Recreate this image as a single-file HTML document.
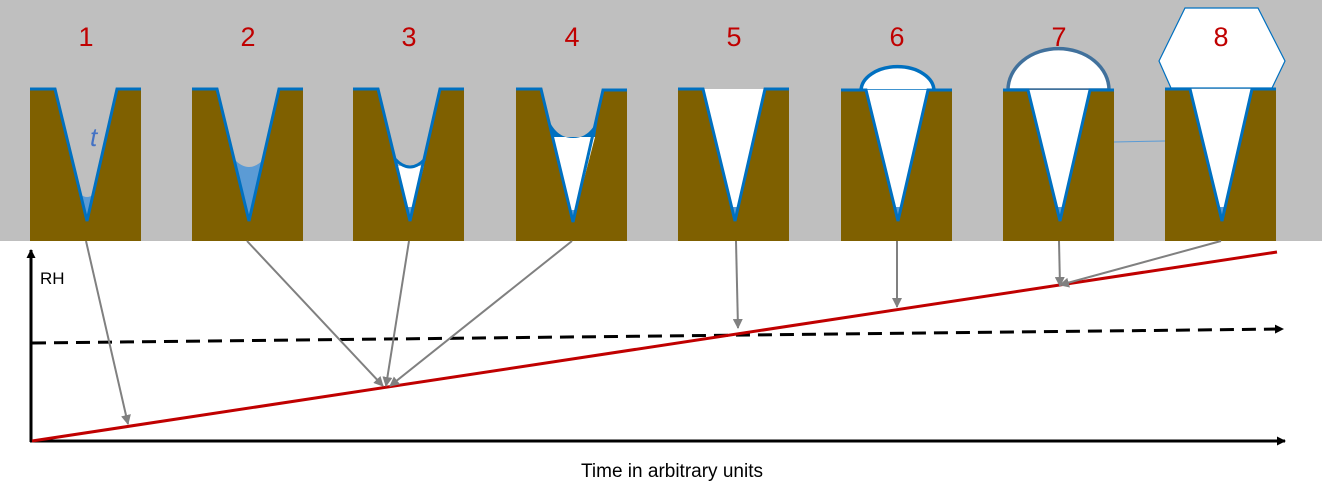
<!DOCTYPE html>
<html><head><meta charset="utf-8"><style>
html,body{margin:0;padding:0;background:#fff;}
svg{display:block;}
text{font-family:"Liberation Sans",sans-serif;}
</style></head><body>
<svg width="1322" height="502" viewBox="0 0 1322 502" xmlns="http://www.w3.org/2000/svg">
<defs>
<marker id="ga" markerWidth="10" markerHeight="10" refX="9" refY="5" orient="auto" markerUnits="userSpaceOnUse" viewBox="0 0 10 10"><path d="M0,0 L10,5 L0,10 z" fill="#808080"/></marker>
<marker id="ba" markerWidth="9" markerHeight="9" refX="8" refY="4.5" orient="auto" markerUnits="userSpaceOnUse" viewBox="0 0 9 9"><path d="M0,0 L9,4.5 L0,9 z" fill="#000"/></marker>
</defs>
<rect x="0" y="0" width="1322" height="241" fill="#bfbfbf"/>

<!-- hexagon for 8 -->
<polygon points="1185,8 1258,8 1285,61 1272,88 1171,88 1159,61" fill="#fff" stroke="#0070c0" stroke-width="1.2"/>
<!-- domes -->
<path d="M861,91 A36,24 0 0 1 934,91 Z" fill="#fff" stroke="#0070c0" stroke-width="3.5"/>
<path d="M1008,90 A50,41 0 0 1 1109,90 Z" fill="#fff" stroke="#41719c" stroke-width="3.5"/>
<!-- thin line between 7 and 8 -->
<line x1="1114" y1="142" x2="1165" y2="141" stroke="#5b9bd5" stroke-width="1"/>

<g id="blocks">
<g transform="translate(30,0)">
<path d="M0,89 H25 L57,221 L87,89 H111 V241 H0 Z" fill="#7f6000"/>
<path d="M50,194 Q57,200 64,194 L57,221 Z" fill="#5b9bd5"/>
<path d="M0,89 H25 L57,221 L87,89 H111" fill="none" stroke="#0070c0" stroke-width="3"/>
<text x="60" y="146" font-size="26" font-style="italic" fill="#4472c4">t</text>
<text x="56" y="46" font-size="27" fill="#c00000" text-anchor="middle">1</text>
</g>
<g transform="translate(192,0)">
<path d="M0,89 H25 L57,221 L87,89 H111 V241 H0 Z" fill="#7f6000"/>
<path d="M42,159 Q57,175 72,159 L57,221 Z" fill="#5b9bd5"/>
<path d="M0,89 H25 L57,221 L87,89 H111" fill="none" stroke="#0070c0" stroke-width="3"/>
<text x="56" y="46" font-size="27" fill="#c00000" text-anchor="middle">2</text>
</g>
<g transform="translate(353,0)">
<path d="M0,89 H25 L57,221 L87,89 H111 V241 H0 Z" fill="#7f6000"/>
<path d="M43,166 L71,166 L57,221 Z" fill="#fff"/>
<path d="M54,207 L60,207 L57,221 Z" fill="#5b9bd5"/>
<path d="M42,159 Q57,175 72,159" fill="none" stroke="#0070c0" stroke-width="3"/>
<path d="M0,89 H25 L57,221 L87,89 H111" fill="none" stroke="#0070c0" stroke-width="3"/>
<text x="56" y="46" font-size="27" fill="#c00000" text-anchor="middle">3</text>
</g>
<g transform="translate(516,0)">
<path d="M0,89 H25 L57,222 L87,89 H111 V241 H0 Z" fill="#7f6000"/>
<path d="M36,137 L79,137 L57,222 Z" fill="#fff"/>
<path d="M54,210 L60,210 L57,222 Z" fill="#5b9bd5"/>
<path d="M32,118 Q40,138 57,138 Q74,138 82,118 L79,137 H36 Z" fill="#0070c0"/>
<path d="M0,89 H25 L57,222 L87,90 H111" fill="none" stroke="#0070c0" stroke-width="3"/>
<text x="56" y="46" font-size="27" fill="#c00000" text-anchor="middle">4</text>
</g>
<g transform="translate(678,0)">
<path d="M0,89 H25 L57,221 L87,89 H111 V241 H0 Z" fill="#7f6000"/>
<path d="M25,89 L87,89 L57,221 Z" fill="#fff"/>
<path d="M54,207 L60,207 L57,221 Z" fill="#5b9bd5"/>
<path d="M0,89 H25 L57,221 L87,89 H111" fill="none" stroke="#0070c0" stroke-width="3"/>
<text x="56" y="46" font-size="27" fill="#c00000" text-anchor="middle">5</text>
</g>
<g transform="translate(841,0)">
<path d="M0,90 H25 L57,221 L87,90 H111 V241 H0 Z" fill="#7f6000"/>
<path d="M25,90 L87,90 L57,221 Z" fill="#fff"/>
<path d="M54,207 L60,207 L57,221 Z" fill="#5b9bd5"/>
<path d="M0,90 H25 L57,221 L87,90 H111" fill="none" stroke="#0070c0" stroke-width="3"/>
<text x="56" y="46" font-size="27" fill="#c00000" text-anchor="middle">6</text>
</g>
<g transform="translate(1003,0)">
<path d="M0,90 H25 L57,221 L87,90 H111 V241 H0 Z" fill="#7f6000"/>
<path d="M25,90 L87,90 L57,221 Z" fill="#fff"/>
<path d="M54,207 L60,207 L57,221 Z" fill="#5b9bd5"/>
<path d="M0,90 H25 L57,221 L87,90 H111" fill="none" stroke="#0070c0" stroke-width="3"/>
<text x="56" y="46" font-size="27" fill="#c00000" text-anchor="middle">7</text>
</g>
<g transform="translate(1165,0)">
<path d="M0,89 H25 L57,221 L87,89 H111 V241 H0 Z" fill="#7f6000"/>
<path d="M25,89 L87,89 L57,221 Z" fill="#fff"/>
<path d="M54,207 L60,207 L57,221 Z" fill="#5b9bd5"/>
<path d="M0,89 H25 L57,221 L87,89 H111" fill="none" stroke="#0070c0" stroke-width="3"/>
<text x="56" y="46" font-size="27" fill="#c00000" text-anchor="middle">8</text>
</g>
</g>

<line x1="31" y1="442" x2="31" y2="250" stroke="#000" stroke-width="3" marker-end="url(#ba)"/>
<line x1="30" y1="441" x2="1285" y2="441" stroke="#000" stroke-width="3" marker-end="url(#ba)"/>
<text x="40" y="284" font-size="17" fill="#000">RH</text>
<text x="672" y="477" font-size="19" fill="#000" text-anchor="middle">Time in arbitrary units</text>
<line x1="32" y1="343" x2="1283" y2="329" stroke="#000" stroke-width="3" stroke-dasharray="14,8" marker-end="url(#ba)"/>
<line x1="32" y1="441" x2="1277" y2="252" stroke="#c00000" stroke-width="3"/>
<g stroke="#808080" stroke-width="2" fill="none">
<line x1="86" y1="241" x2="128" y2="424" marker-end="url(#ga)"/>
<line x1="247" y1="241" x2="383" y2="386" marker-end="url(#ga)"/>
<line x1="409" y1="241" x2="386" y2="386" marker-end="url(#ga)"/>
<line x1="572" y1="241" x2="390" y2="386" marker-end="url(#ga)"/>
<line x1="736" y1="241" x2="738" y2="328" marker-end="url(#ga)"/>
<line x1="897" y1="241" x2="897" y2="307" marker-end="url(#ga)"/>
<line x1="1059" y1="241" x2="1060" y2="286" marker-end="url(#ga)"/>
<line x1="1221" y1="241" x2="1060" y2="285" marker-end="url(#ga)"/>
</g>
</svg>
</body></html>
